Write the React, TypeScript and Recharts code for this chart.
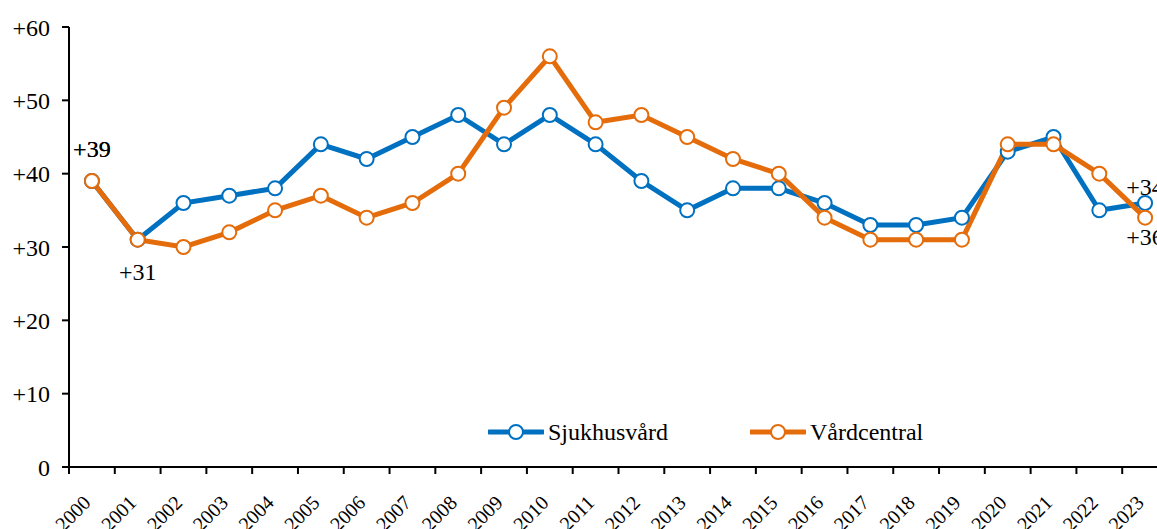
import React from 'react';
import { LineChart, Line, XAxis, YAxis, Legend, LabelList } from 'recharts';

const years = ['2000','2001','2002','2003','2004','2005','2006','2007','2008','2009','2010','2011','2012','2013','2014','2015','2016','2017','2018','2019','2020','2021','2022','2023'];
const sjukhusvard = [39,31,36,37,38,44,42,45,48,44,48,44,39,35,38,38,36,33,33,34,43,45,35,36];
const vardcentral = [39,31,30,32,35,37,34,36,40,49,56,47,48,45,42,40,34,31,31,31,44,44,40,34];
const yTicks = [0,10,20,30,40,50,60];
const sjukhusLabels: Record<number, string> = { 0: '+39', 23: '+34' };
const vardLabels: Record<number, string> = { 0: '+39', 1: '+31', 23: '+36' };

const data = years.map((y, i) => ({ year: y, Sjukhusvård: sjukhusvard[i], Vårdcentral: vardcentral[i] }));

const BLUE = '#0070C0';
const ORANGE = '#E46C0A';
const FONT = '"Liberation Serif", "Times New Roman", serif';

const W = 1180;
const H = 529;
const MARGIN = { top: 27, right: 12, left: 0, bottom: 0 };
const YW = 69;
const BAND = (W - MARGIN.left - MARGIN.right - YW) / years.length;

const XTick = (props: any) => {
  const { x, y, payload } = props;
  const bx = x - BAND / 2;
  const ty = y + 37;
  return (
    <g>
      <line x1={bx} y1={y} x2={bx} y2={y + 7} stroke="#000" strokeWidth={2} />
      <text x={x} y={ty} textAnchor="end" fontSize={20} fontFamily={FONT} fill="#000" transform={`rotate(-45, ${x}, ${ty})`}>
        {payload.value}
      </text>
    </g>
  );
};

const makeLabel = (texts: Record<number, string>, offsets: Record<number, number>) => (props: any) => {
  const { x, y, index } = props;
  const t = texts[index];
  if (!t) return null;
  return (
    <text x={x} y={y + (offsets[index] ?? 0)} textAnchor="middle" fontSize={24} fontFamily={FONT} fill="#000">
      {t}
    </text>
  );
};

const LegendContent = () => {
  const items = [
    { name: 'Sjukhusvård', color: BLUE },
    { name: 'Vårdcentral', color: ORANGE },
  ];
  return (
    <div style={{ display: 'flex', alignItems: 'center', fontFamily: FONT, fontSize: 24, color: '#000' }}>
      {items.map((it, i) => (
        <div key={it.name} style={{ display: 'flex', alignItems: 'center', marginRight: i === 0 ? 82 : 0 }}>
          <svg width={56} height={20} style={{ marginRight: 4 }}>
            <line x1={1} y1={10} x2={55} y2={10} stroke={it.color} strokeWidth={5} strokeLinecap="round" />
            <circle cx={28} cy={10} r={7} fill="#fff" stroke={it.color} strokeWidth={2} />
          </svg>
          <span style={{ lineHeight: '32px' }}>{it.name}</span>
        </div>
      ))}
    </div>
  );
};

export default function App() {
  return (
    <div style={{ position: 'absolute', left: 0, top: 0, width: 1157, height: 529, overflow: 'hidden', background: '#fff' }}>
      <LineChart width={W} height={H} data={data} margin={MARGIN}>
        <XAxis
          dataKey="year"
          height={H - MARGIN.top - 440}
          padding={{ left: BAND / 2, right: BAND / 2 }}
          axisLine={{ stroke: '#000', strokeWidth: 2 }}
          tickLine={false}
          tickSize={0}
          tickMargin={0}
          interval={0}
          tick={<XTick />}
        />
        <YAxis
          width={YW}
          domain={[0, 60]}
          ticks={yTicks}
          interval={0}
          axisLine={{ stroke: '#000', strokeWidth: 2 }}
          tickLine={{ stroke: '#000', strokeWidth: 2 }}
          tickSize={7}
          tickMargin={12}
          tick={{ fill: '#000', fontSize: 24, fontFamily: FONT }}
          tickFormatter={(v: number) => (v === 0 ? '0' : `+${v}`)}
        />
        <Legend
          verticalAlign="middle"
          layout="horizontal"
          content={<LegendContent />}
          wrapperStyle={{ position: 'absolute', left: 488, top: 416, width: 'auto', height: 32 }}
        />
        <Line
          type="linear"
          dataKey="Sjukhusvård"
          stroke={BLUE}
          strokeWidth={5}
          dot={{ r: 7, fill: '#fff', stroke: BLUE, strokeWidth: 2 }}
          activeDot={false}
          isAnimationActive={false}
        >
          <LabelList dataKey="Sjukhusvård" content={makeLabel(sjukhusLabels, { 0: -24, 23: -8 })} />
        </Line>
        <Line
          type="linear"
          dataKey="Vårdcentral"
          stroke={ORANGE}
          strokeWidth={5}
          dot={{ r: 7, fill: '#fff', stroke: ORANGE, strokeWidth: 2 }}
          activeDot={false}
          isAnimationActive={false}
        >
          <LabelList dataKey="Vårdcentral" content={makeLabel(vardLabels, { 0: -24, 1: 40, 23: 27 })} />
        </Line>
      </LineChart>
    </div>
  );
}
